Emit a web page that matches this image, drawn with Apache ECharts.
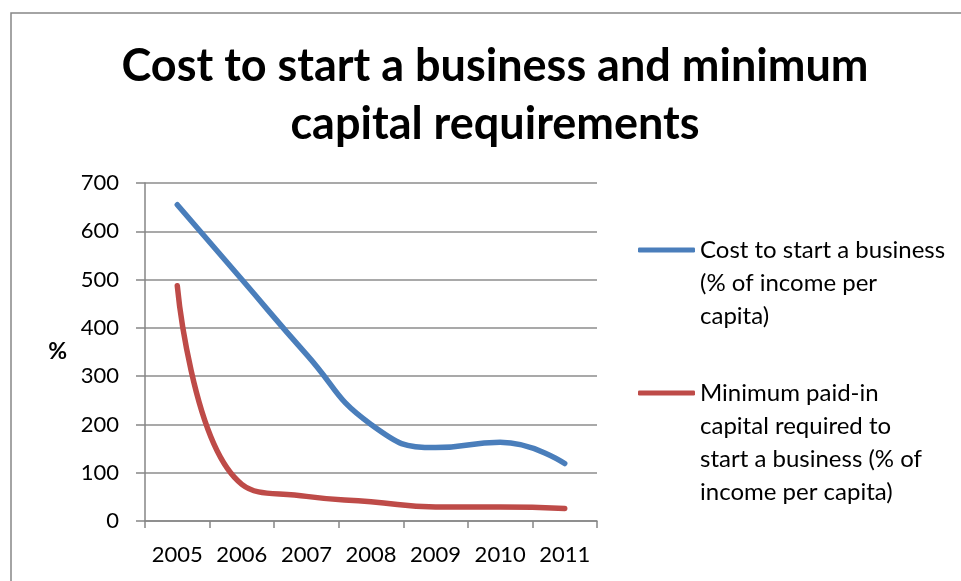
<!DOCTYPE html>
<html>
<head>
<meta charset="utf-8">
<script src="https://cdn.jsdelivr.net/npm/echarts@6/dist/echarts.min.js"></script>
<style>
html,body{margin:0;padding:0;background:#fff;}
#chart{width:961px;height:581px;}
</style>
</head>
<body>
<div id="chart"></div>
<script>
var titleText = 'Cost to start a business and minimum\ncapital requirements';
var categories = ['2005', '2006', '2007', '2008', '2009', '2010', '2011'];
var seriesNames = [
  'Cost to start a business (% of income per capita)',
  'Minimum paid-in capital required to start a business (% of income per capita)'
];
var legendLabels = [
  'Cost to start a business\n(% of income per\ncapita)',
  'Minimum paid-in\ncapital required to\nstart a business (% of\nincome per capita)'
];
var costToStart = [655, 500, 345, 200, 152, 163, 119];
var minCapital = [487, 76, 51, 40, 29, 29, 26];
var yTicks = [0, 100, 200, 300, 400, 500, 600, 700];
var yAxisName = '%';

var FONT = 'Lato';
var chart = echarts.init(document.getElementById('chart'), null, {renderer: 'canvas'});
var LH = 33;
function legendFor(idx, left, firstLineY) {
  var lines = legendLabels[idx].split('\n');
  var k = lines.length - 1;
  var pad = [];
  for (var i = 0; i < k; i++) pad.push(' ');
  var label = pad.concat(lines).join('\n');
  return {
    data: [seriesNames[idx]],
    left: left,
    top: firstLineY - (k * LH + LH / 2),
    orient: 'vertical',
    padding: 0,
    itemWidth: 57,
    itemHeight: 5,
    itemGap: 0,
    icon: 'roundRect',
    formatter: function () { return label; },
    textStyle: {fontFamily: FONT, fontSize: 24, color: '#000', lineHeight: LH}
  };
}
chart.setOption({
  animation: false,
  color: ['#4A7EBB', '#BE4B48'],
  title: {
    text: titleText,
    left: 490,
    top: 32,
    textAlign: 'center',
    textStyle: {fontFamily: FONT, fontWeight: 'bold', fontSize: 45, lineHeight: 58, color: '#000'}
  },
  legend: [legendFor(0, 638, 250), legendFor(1, 638, 393)],
  grid: {left: 145, top: 183, width: 452, height: 338, containLabel: false},
  xAxis: {
    type: 'category',
    data: categories,
    boundaryGap: true,
    axisLine: {lineStyle: {color: '#868686', width: 1.5}},
    axisTick: {show: true, length: 7, lineStyle: {color: '#868686', width: 1.5}},
    axisLabel: {interval: 0, fontFamily: FONT, fontSize: 22, color: '#000', margin: 23}
  },
  yAxis: {
    type: 'value',
    min: yTicks[0],
    max: yTicks[yTicks.length - 1],
    interval: yTicks[1] - yTicks[0],
    name: yAxisName,
    nameLocation: 'middle',
    nameRotate: 0,
    nameGap: 78,
    nameTextStyle: {fontFamily: FONT, fontSize: 23, fontWeight: 'bold', color: '#000'},
    axisLine: {show: true, lineStyle: {color: '#868686', width: 1.5}},
    axisTick: {show: true, length: 9, lineStyle: {color: '#868686', width: 1.5}},
    axisLabel: {fontFamily: FONT, fontSize: 22, color: '#000', margin: 26},
    splitLine: {lineStyle: {color: '#8c8c8c', width: 1.5}}
  },
  graphic: [{
    type: 'rect',
    shape: {x: 11, y: 13, width: 960, height: 600},
    style: {fill: 'none', stroke: '#868686', lineWidth: 1.5},
    silent: true, z: -1
  }],
  series: [
    {name: seriesNames[0], type: 'line', data: costToStart, smooth: 0.5, showSymbol: false,
     lineStyle: {width: 5.5, cap: 'round'}},
    {name: seriesNames[1], type: 'line', data: minCapital, smooth: 0.5, showSymbol: false,
     lineStyle: {width: 5.5, cap: 'round'}}
  ]
});
</script>
</body>
</html>
